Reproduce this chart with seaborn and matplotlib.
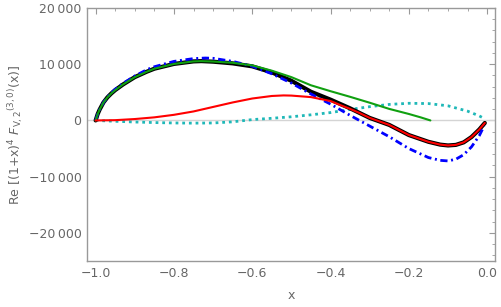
import matplotlib
matplotlib.use("Agg")
import matplotlib.pyplot as plt
import matplotlib.ticker as mticker
import seaborn as sns

# values
x_black = [-1.0, -0.995, -0.99, -0.98, -0.97, -0.96, -0.95, -0.93, -0.9, -0.87, -0.85, -0.8,
           -0.75, -0.73, -0.7, -0.65, -0.6, -0.55, -0.5, -0.45, -0.4, -0.35, -0.3, -0.25,
           -0.2, -0.15, -0.12, -0.1, -0.08, -0.06, -0.04, -0.02, -0.006]
y_black = [0, 1100, 1900, 3200, 4100, 4800, 5400, 6400, 7700, 8650, 9200, 10050,
           10500, 10550, 10450, 10150, 9620, 8550, 7050, 5100, 3700, 2150, 450, -800,
           -2600, -3800, -4300, -4450, -4350, -3900, -2950, -1600, -450]

x_green = [-1.0, -0.995, -0.99, -0.98, -0.97, -0.96, -0.95, -0.93, -0.9, -0.87, -0.85, -0.8,
           -0.75, -0.73, -0.7, -0.65, -0.6, -0.55, -0.5, -0.45, -0.4, -0.35, -0.3, -0.25,
           -0.2, -0.17, -0.145]
y_green = [0, 1100, 1900, 3200, 4100, 4800, 5400, 6400, 7700, 8650, 9200, 10050,
           10500, 10550, 10480, 10250, 9790, 8850, 7700, 6250, 5200, 4200, 3150, 2050,
           1150, 550, 0]

x_blue = [-1.0, -0.995, -0.99, -0.98, -0.97, -0.96, -0.95, -0.93, -0.9, -0.87, -0.85, -0.8,
          -0.75, -0.72, -0.7, -0.65, -0.6, -0.55, -0.5, -0.45, -0.4, -0.35, -0.3, -0.25,
          -0.2, -0.15, -0.12, -0.1, -0.08, -0.06, -0.04, -0.02, -0.008]
y_blue = [0, 1100, 1900, 3200, 4150, 4900, 5550, 6600, 7900, 9000, 9550, 10500,
          11000, 11100, 11050, 10500, 9650, 8300, 6650, 4700, 2900, 900, -1000, -2900,
          -5000, -6600, -7100, -7200, -6900, -6100, -4700, -2700, -1000]

x_red = [-1.0, -0.95, -0.9, -0.85, -0.8, -0.75, -0.7, -0.65, -0.6, -0.55, -0.52, -0.5,
         -0.45, -0.4, -0.374, -0.35, -0.33, -0.3, -0.25, -0.2, -0.15, -0.12, -0.1, -0.08,
         -0.06, -0.04, -0.02, -0.006]
y_red = [0, 50, 250, 550, 1000, 1600, 2400, 3200, 3900, 4350, 4450, 4420,
         4150, 3450, 2700, 2050, 1450, 450, -800, -2600, -3800, -4300, -4450, -4350,
         -3900, -2950, -1600, -450]

x_cyan = [-1.0, -0.95, -0.9, -0.85, -0.8, -0.75, -0.7, -0.65, -0.6, -0.55, -0.5, -0.45,
          -0.4, -0.35, -0.3, -0.25, -0.2, -0.15, -0.1, -0.05, -0.02, -0.005]
y_cyan = [0, -150, -280, -380, -450, -480, -450, -250, 150, 380, 650, 1000,
          1400, 1950, 2450, 2850, 3050, 3000, 2600, 1650, 800, 250]


def thousands(v, pos):
    s = f"{abs(int(round(v))):,}".replace(",", "\u2009")
    return ("\u2212" + s) if v < 0 else s


def decimals(v, pos):
    s = f"{abs(v):.1f}"
    return ("\u2212" + s) if v < -1e-9 else s


sns.set_theme(style="white")
plt.rcParams['font.family'] = ['DejaVu Sans']

fig = plt.figure(figsize=(5.01, 3.07), dpi=100)
ax = fig.add_axes([0.1737, 0.1498, 0.8143, 0.8242])

ax.axhline(0, color="#d4d4d4", lw=1.0, zorder=1)

sns.lineplot(x=x_cyan, y=y_cyan, ax=ax, color="#1fb8b8", lw=2.0,
             linestyle=(0, (1.0, 1.4)), zorder=2)
sns.lineplot(x=x_black, y=y_black, ax=ax, color="black", lw=3.0, zorder=3)
sns.lineplot(x=x_blue, y=y_blue, ax=ax, color="#0000ff", lw=2.0,
             linestyle=(0, (2.6, 1.3, 0.7, 1.3)), zorder=4)
sns.lineplot(x=x_green, y=y_green, ax=ax, color="#10a010", lw=1.5, zorder=5)
sns.lineplot(x=x_red, y=y_red, ax=ax, color="#ff0000", lw=1.5, zorder=6)

ax.set_xlim(-1.022, 0.02)
ax.set_ylim(-25000, 20000)
ax.xaxis.set_major_locator(mticker.MultipleLocator(0.2))
ax.xaxis.set_minor_locator(mticker.MultipleLocator(0.05))
ax.yaxis.set_major_locator(mticker.MultipleLocator(10000))
ax.yaxis.set_minor_locator(mticker.MultipleLocator(2000))
ax.xaxis.set_major_formatter(mticker.FuncFormatter(decimals))
ax.yaxis.set_major_formatter(mticker.FuncFormatter(thousands))

for side in ax.spines.values():
    side.set_color("#999999")
    side.set_linewidth(1.0)
ax.tick_params(which="both", direction="in", top=True, right=True,
               color="#999999", labelcolor="#666666", labelsize=9)
ax.tick_params(which="major", length=4, width=0.8, pad=4)
ax.tick_params(which="minor", length=2.5, width=0.6)

ax.set_xlabel("x", color="#666666", fontsize=9, labelpad=7)
ax.set_ylabel(r"Re [(1+x)$^4$ $F_{\mathrm{V,2}}{}^{(3,0)}$(x)]",
              color="#666666", fontsize=9, labelpad=2)

fig.savefig("out.png", dpi=100)
